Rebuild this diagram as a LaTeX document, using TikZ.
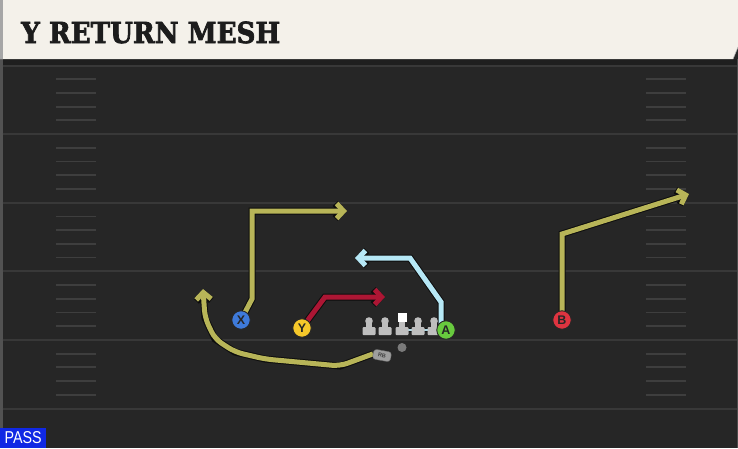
\documentclass[tikz,border=0pt]{standalone}
\usepackage{fontspec}
\setsansfont{Liberation Sans}
\newfontfamily\titlefont[FakeBold=2.5]{DejaVu Serif}
\usetikzlibrary{arrows.meta}
\definecolor{fieldc}{RGB}{38,38,38}
\definecolor{yardc}{RGB}{56,56,56}
\definecolor{hashc}{RGB}{62,62,62}
\definecolor{titlebg}{RGB}{244,241,234}
\definecolor{titletxt}{RGB}{28,28,28}
\definecolor{olive}{RGB}{184,181,88}
\definecolor{routered}{RGB}{172,22,52}
\definecolor{routecyan}{RGB}{182,232,246}
\definecolor{pblue}{RGB}{62,122,218}
\definecolor{pyellow}{RGB}{246,200,42}
\definecolor{pgreen}{RGB}{104,202,62}
\definecolor{pred}{RGB}{222,52,64}
\definecolor{lgray}{RGB}{190,190,190}
\definecolor{passblue}{RGB}{16,40,228}
\pgfdeclarelayer{field}
\pgfdeclarelayer{routes}
\pgfsetlayers{field,routes,main}
\newcommand\myroute[2]{%
  \draw[line width=7pt,black!95,line join=miter,-{Straight Barb[length=7pt,width=15pt]}] #2;
  \draw[line width=5pt,#1,line join=miter,-{Straight Barb[length=7pt,width=15pt]}] #2;}
\tikzset{
  player/.style={circle,minimum size=18.5pt,inner sep=0pt,draw=black!85,line width=0.9pt,
    font=\sffamily\bfseries\fontsize{12.5}{12.5}\selectfont,text=black!85},
  lineman/.pic={
    \fill[lgray] (0,0) circle (3.8);
    \fill[lgray] (-3,0) rectangle (3,8);
    \fill[lgray,rounded corners=1pt] (-6.5,6) rectangle (6.5,14);
  },
  centerman/.pic={
    \fill[white] (-4.5,-8) rectangle (4.5,1);
    \fill[lgray] (-3,1) rectangle (3,8);
    \fill[lgray,rounded corners=1pt] (-6.5,6) rectangle (6.5,14);
  },
  yardline/.style={yardc,line width=2pt},
  hashmark/.style={hashc,line width=1.8pt},
}
\begin{document}
\begin{tikzpicture}[x=1pt,y=-1pt]
\useasboundingbox (0,0) rectangle (738,448);
\begin{pgfonlayer}{field}
  \fill[fieldc] (0,0) rectangle (738,448);
  \fill[black!88] (0,59) rectangle (738,65);
  \fill[black!68] (0,59) rectangle (2.5,448);
  \fill[black!70] (736.5,59) rectangle (738,448);
  \foreach \k in {0,...,5}{
    \pgfmathsetmacro\yy{65.5+68.6*\k}
    \draw[yardline] (2.5,\yy) -- (736.5,\yy);
  }
  \foreach \k in {0,...,4}{
    \foreach \j in {1,...,4}{
      \pgfmathsetmacro\yy{65.5+68.6*\k+13.7*\j}
      \draw[hashmark] (56,\yy) -- (96,\yy);
      \draw[hashmark] (646,\yy) -- (686,\yy);
    }
  }
  % title bar
  \fill[titlebg] (0,0) -- (738,0) -- (738,47) -- (733,59) -- (0,59) -- cycle;
  \fill[black!35] (0,0) rectangle (3,59);
  \draw[black!30,line width=0.6pt] (733,59) -- (738,47);
\end{pgfonlayer}
\node[anchor=base west,inner sep=0pt,text=titletxt] (title) at (21,43)
  {\resizebox{259pt}{21.5pt}{\titlefont\bfseries Y RETURN MESH}};
% offensive line
\pic at (369,321) {lineman};
\pic at (385,321) {lineman};
\pic at (402,321) {centerman};
\pic at (418,321) {lineman};
\pic at (434,321) {lineman};
\node[circle,fill=black!52,minimum size=9pt,inner sep=0pt] (qb) at (402,347.5) {};
\node[rounded corners=3pt,fill=black!38,draw=black!60,line width=0.4pt,minimum width=18pt,minimum height=10pt,
  inner sep=0pt,rotate=-10,font=\sffamily\bfseries\fontsize{5.5}{5.5}\selectfont,text=black!75] (rb) at (382,355.5) {RB};
% players
\node[player,fill=pblue] (X) at (241,320) {X};
\node[player,fill=pyellow] (Y) at (302,328) {Y};
\node[player,fill=pgreen] (A) at (446,330) {A};
\node[player,fill=pred] (B) at (562,320) {B};
% route waypoints
\coordinate (x1) at (252,299);
\coordinate (x2) at (252,211);
\coordinate (x3) at (347,211);
\coordinate (y1) at (325,297);
\coordinate (y2) at (385,297);
\coordinate (a0) at (403,330);
\coordinate (a1) at (441,330);
\coordinate (a2) at (441,302);
\coordinate (a3) at (410,258);
\coordinate (a4) at (355,258);
\coordinate (b1) at (562,234);
\coordinate (b2) at (689,194);
\coordinate (r1) at (340,366);
\coordinate (r2) at (265,359);
\coordinate (r3) at (235,352);
\coordinate (r4) at (215,339);
\coordinate (r5) at (205,318);
\coordinate (r6) at (203,289);
\begin{pgfonlayer}{routes}
  \myroute{olive}{(X.center) -- (x1) -- (x2) -- (x3)}
  \myroute{routered}{(Y.center) -- (y1) -- (y2)}
  \draw[line width=3.5pt,black!92] (a0) -- (a1);
  \draw[line width=2.5pt,routecyan!85!gray] (a0) -- (a1);
  \myroute{routecyan}{(a1) -- (a2) -- (a3) -- (a4)}
  \myroute{olive}{(B.center) -- (b1) -- (b2)}
  \myroute{olive,rounded corners=8pt}{(rb.west) -- (r1) -- (r2) -- (r3) -- (r4) -- (r5) -- (r6)}
\end{pgfonlayer}
% play type
\node[fill=passblue,anchor=south west,minimum width=46pt,minimum height=20pt,inner sep=0pt,text=white] (pass) at (0,448)
  {\resizebox{37pt}{12pt}{\sffamily PASS}};
\end{tikzpicture}
\end{document}
